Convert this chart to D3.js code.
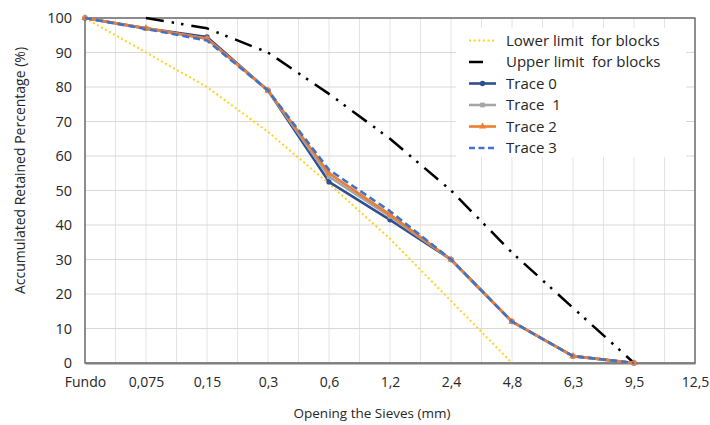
<!DOCTYPE html>
<html>
<head>
<meta charset="utf-8">
<script src="https://cdn.jsdelivr.net/npm/d3@7"></script>
<style>
    body { margin: 0; background: #fff; }
    svg { font-family: "Open Sans", sans-serif; }
    text { white-space: pre; }
</style>
</head>
<body>
<div id="chart"></div>
<script>
// Sieve openings (x categories)
const categories = ["Fundo", "0,075", "0,15", "0,3", "0,6", "1,2", "2,4", "4,8", "6,3", "9,5", "12,5"];
const yTicks = [0, 10, 20, 30, 40, 50, 60, 70, 80, 90, 100];

// Accumulated retained percentage per sieve (null = no point)
const lowerLimit = [100, 90, 80, 67, 52, 36, 18, 0, null, null, null];
const upperLimit = [null, 100, 97, 90, 78, 65, 50, 32, 16, 0, null];
const trace0 = [100, 97, 94.5, 79, 52.5, 41.5, 30, 12, 2, 0, null];
const trace1 = [100, 97, 94, 79, 54, 42.5, 30, 12, 2, 0, null];
const trace2 = [100, 97, 94, 79, 55, 43, 30, 12, 2, 0, null];
const trace3 = [100, 96.8, 93.5, 79, 56, 44, 30, 12, 2, 0, null];

const seriesNames = ["Lower limit  for blocks", "Upper limit  for blocks", "Trace 0", "Trace  1", "Trace 2", "Trace 3"];

const width = 710, height = 425;
const margin = { top: 18, right: 15, bottom: 62, left: 85 };

const svg = d3.select("#chart").append("svg")
    .attr("width", width)
    .attr("height", height);

const x = d3.scalePoint()
    .domain(categories)
    .range([margin.left, width - margin.right])
    .padding(0);

const y = d3.scaleLinear()
    .domain([0, 100])
    .range([height - margin.bottom, margin.top]);

const step = x.step();

// vertical gridlines: at categories and halfway between them
const vGrid = [];
categories.forEach((c, i) => {
    vGrid.push(x(c));
    if (i < categories.length - 1) vGrid.push(x(c) + step / 2);
});

svg.append("g")
    .attr("stroke", "#e4e4e4")
    .attr("stroke-width", 1)
    .selectAll("line")
    .data(vGrid)
    .join("line")
    .attr("x1", d => d).attr("x2", d => d)
    .attr("y1", y(0)).attr("y2", y(100));

svg.append("g")
    .attr("stroke", "#d9d9d9")
    .attr("stroke-width", 1)
    .selectAll("line")
    .data(yTicks)
    .join("line")
    .attr("x1", x.range()[0]).attr("x2", x.range()[1])
    .attr("y1", d => y(d)).attr("y2", d => y(d));

// plot border
svg.append("rect")
    .attr("x", x.range()[0])
    .attr("y", y(100))
    .attr("width", x.range()[1] - x.range()[0])
    .attr("height", y(0) - y(100))
    .attr("fill", "none")
    .attr("stroke", "#595959")
    .attr("stroke-width", 1.3);

// axes
const yAxis = svg.append("g")
    .attr("transform", `translate(${margin.left},0)`)
    .call(d3.axisLeft(y).tickValues(yTicks).tickSize(0).tickPadding(13));
yAxis.select(".domain").remove();
yAxis.selectAll("text").attr("font-size", 14.5).attr("fill", "#262626")
    .attr("font-family", "Open Sans, sans-serif");

const xAxis = svg.append("g")
    .attr("transform", `translate(0,${y(0)})`)
    .call(d3.axisBottom(x).tickSize(0).tickPadding(14));
xAxis.select(".domain").attr("stroke", "#7f7f7f").attr("stroke-width", 2);
xAxis.selectAll("text").attr("font-size", 14).attr("fill", "#262626")
    .attr("font-family", "Open Sans, sans-serif");

// axis titles
svg.append("text")
    .attr("x", 372)
    .attr("y", 418)
    .attr("text-anchor", "middle")
    .attr("font-size", 13.5)
    .attr("fill", "#262626")
    .text("Opening the Sieves (mm)");

svg.append("text")
    .attr("transform", `translate(25,${(y(0) + y(100)) / 2 - 20}) rotate(-90)`)
    .attr("text-anchor", "middle")
    .attr("font-size", 14)
    .attr("fill", "#262626")
    .text("Accumulated Retained Percentage (%)");

// series styles
const series = [
    { name: seriesNames[0], values: lowerLimit, color: "#ffd21f", width: 2, dash: "2,2.6", marker: null },
    { name: seriesNames[1], values: upperLimit, color: "#000000", width: 2.5, dash: "18,8,2.5,7,2.5,8", marker: null },
    { name: seriesNames[2], values: trace0, color: "#2f4f8f", width: 2.6, dash: null, marker: "circle" },
    { name: seriesNames[3], values: trace1, color: "#a5a5a5", width: 2.6, dash: null, marker: "square" },
    { name: seriesNames[4], values: trace2, color: "#ed7d31", width: 2.6, dash: null, marker: "triangle" },
    { name: seriesNames[5], values: trace3, color: "#4472c4", width: 2.6, dash: "7,4", marker: null }
];

const line = d3.line()
    .defined(d => d.v !== null)
    .x(d => x(d.c))
    .y(d => y(d.v));

const symbolType = { circle: d3.symbolCircle, square: d3.symbolSquare, triangle: d3.symbolTriangle };

series.forEach(s => {
    const pts = s.values.map((v, i) => ({ c: categories[i], v }));
    svg.append("path")
        .datum(pts)
        .attr("fill", "none")
        .attr("stroke", s.color)
        .attr("stroke-width", s.width)
        .attr("stroke-dasharray", s.dash)
        .attr("stroke-linejoin", "round")
        .attr("d", line);

    if (s.marker) {
        svg.append("g")
            .selectAll("path")
            .data(pts.filter(d => d.v !== null))
            .join("path")
            .attr("transform", d => `translate(${x(d.c)},${y(d.v)})`)
            .attr("d", d3.symbol(symbolType[s.marker], 22))
            .attr("fill", s.color);
    }
});

// legend
const legend = svg.append("g");
legend.append("rect")
    .attr("x", 456).attr("y", 28)
    .attr("width", 230).attr("height", 129)
    .attr("fill", "#fff");

const rowY = i => 40.5 + i * 21.5;
series.forEach((s, i) => {
    legend.append("line")
        .attr("x1", 469).attr("x2", 496)
        .attr("y1", rowY(i)).attr("y2", rowY(i))
        .attr("stroke", s.color)
        .attr("stroke-width", s.width)
        .attr("stroke-dasharray", s.dash ? (i === 5 ? "6,3.5" : (i === 1 ? "14,30" : s.dash)) : null);
    if (s.marker) {
        legend.append("path")
            .attr("transform", `translate(482.5,${rowY(i)})`)
            .attr("d", d3.symbol(symbolType[s.marker], 22))
            .attr("fill", s.color);
    }
    legend.append("text")
        .attr("x", 506)
        .attr("y", rowY(i))
        .attr("dy", "0.35em")
        .attr("font-size", 15)
        .attr("fill", "#262626")
        .text(s.name);
});
</script>
</body>
</html>
